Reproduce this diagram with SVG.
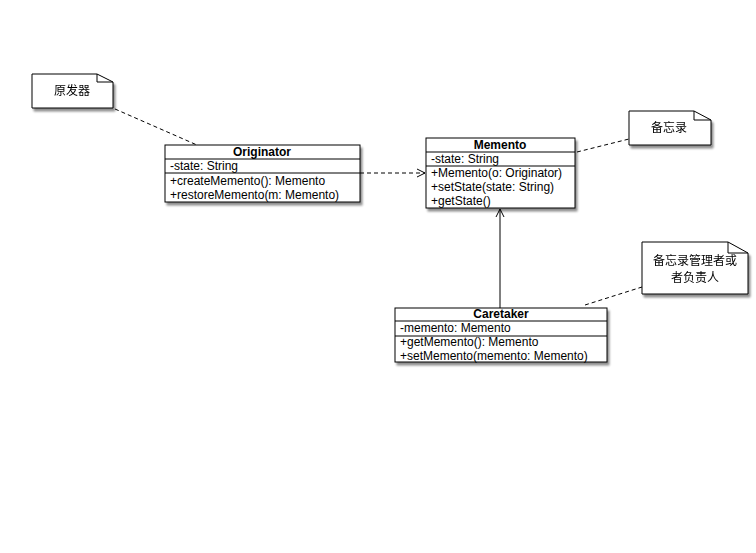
<svg xmlns="http://www.w3.org/2000/svg" width="756" height="553" viewBox="0 0 756 553">
<defs>
<filter id="sh" x="-10%" y="-10%" width="130%" height="140%">
<feGaussianBlur in="SourceAlpha" stdDeviation="1.2"/>
<feOffset dx="2" dy="3" result="b"/>
<feComponentTransfer><feFuncA type="linear" slope="0.45"/></feComponentTransfer>
<feMerge><feMergeNode/><feMergeNode in="SourceGraphic"/></feMerge>
</filter>
<marker id="open" markerWidth="10" markerHeight="10" refX="9" refY="5" orient="auto" markerUnits="userSpaceOnUse">
<path d="M1,1 L9,5 L1,9" fill="none" stroke="#000" stroke-width="1"/>
</marker>
</defs>
<style>
.box{fill:#fff;stroke:#000;stroke-width:1}
.ln{stroke:#000;stroke-width:1;fill:none}
.t{font-family:"Liberation Sans",Arial,sans-serif;font-size:12px;fill:#000}
.b{font-weight:bold;text-anchor:middle}
.n{font-family:"Liberation Sans","Noto Sans CJK SC",sans-serif;font-size:12px;fill:#000;text-anchor:middle}
.dash{stroke:#000;stroke-width:1;fill:none;stroke-dasharray:4,3}
</style>
<rect width="756" height="553" fill="#fff"/>
<g id="connectors">
<line class="dash" x1="115" y1="109" x2="197" y2="145"/>
<line class="dash" x1="360" y1="173" x2="425" y2="173" marker-end="url(#open)"/>
<line class="dash" x1="577" y1="152" x2="629" y2="139"/>
<line class="ln" x1="500" y1="308" x2="500" y2="209" marker-end="url(#open)"/>
<line class="dash" x1="585" y1="305" x2="642" y2="287"/>
</g>
<g id="note1" filter="url(#sh)">
<path class="box" d="M32,74 H97 L113,82 V108 H32 Z"/>
<path class="ln" d="M97,74 L97,82 H113"/>
<text class="n" x="72" y="95">原发器</text>
</g>
<g id="originator">
<rect class="box" x="165" y="145" width="195" height="57" filter="url(#sh)"/>
<line class="ln" x1="165" y1="159" x2="360" y2="159"/>
<line class="ln" x1="165" y1="173" x2="360" y2="173"/>
<text class="t b" x="262" y="156">Originator</text>
<text class="t" x="170" y="170">-state: String</text>
<text class="t" x="170" y="185">+createMemento(): Memento</text>
<text class="t" x="170" y="199">+restoreMemento(m: Memento)</text>
</g>
<g id="memento">
<rect class="box" x="426" y="138" width="149" height="70" filter="url(#sh)"/>
<line class="ln" x1="426" y1="152" x2="575" y2="152"/>
<line class="ln" x1="426" y1="166" x2="575" y2="166"/>
<text class="t b" x="500" y="149">Memento</text>
<text class="t" x="431" y="163">-state: String</text>
<text class="t" x="431" y="177">+Memento(o: Originator)</text>
<text class="t" x="431" y="191">+setState(state: String)</text>
<text class="t" x="431" y="205">+getState()</text>
</g>
<g id="note2" filter="url(#sh)">
<path class="box" d="M629,111 H694 L711,120 V145 H629 Z"/>
<path class="ln" d="M694,111 L694,120 H711"/>
<text class="n" x="669" y="132">备忘录</text>
</g>
<g id="caretaker">
<rect class="box" x="395" y="308" width="212" height="54" filter="url(#sh)"/>
<line class="ln" x1="395" y1="321" x2="607" y2="321"/>
<line class="ln" x1="395" y1="336" x2="607" y2="336"/>
<text class="t b" x="501" y="318">Caretaker</text>
<text class="t" x="400" y="332">-memento: Memento</text>
<text class="t" x="400" y="346">+getMemento(): Memento</text>
<text class="t" x="400" y="360">+setMemento(memento: Memento)</text>
</g>
<g id="note3" filter="url(#sh)">
<path class="box" d="M642,242 H728 L748,253 V294 H642 Z"/>
<path class="ln" d="M728,242 L728,253 H748"/>
<text class="n" x="695" y="265">备忘录管理者或</text>
<text class="n" x="695" y="282">者负责人</text>
</g>
</svg>
